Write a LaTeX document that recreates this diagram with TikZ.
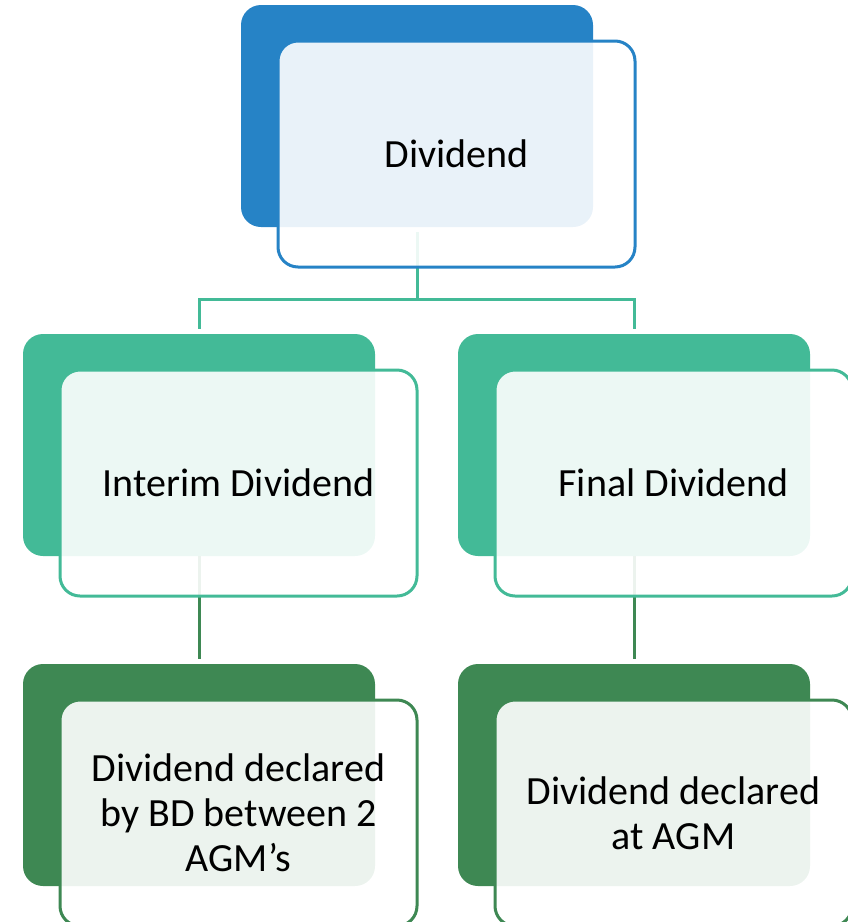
\documentclass[tikz,border=0pt]{standalone}
\usepackage{fontspec}
\setmainfont{Carlito}
\definecolor{topblue}{HTML}{2683C6}
\definecolor{midteal}{HTML}{43BA97}
\definecolor{lowgreen}{HTML}{3E8853}
\begin{document}
\begin{tikzpicture}[x=1pt,y=-1pt,
  backbox/.style={rectangle, rounded corners=20pt, minimum width=352pt,
    minimum height=222pt, inner sep=0pt},
  frontbox/.style={rectangle, rounded corners=20pt, minimum width=357pt,
    minimum height=226pt, line width=3pt, fill=white, fill opacity=0.9,
    text opacity=1, text=black, font=\fontsize{40}{45}\selectfont,
    align=center, inner sep=0pt},
  link/.style={line width=3pt}]
\useasboundingbox (0,0) rectangle (848,922);
\clip (0,0) rectangle (848,922);

% back panels
\node[backbox, fill=topblue]  (topback)  at (417,116) {};
\node[backbox, fill=midteal]  (midLback) at (199,445) {};
\node[backbox, fill=midteal]  (midRback) at (634,445) {};
\node[backbox, fill=lowgreen] (botLback) at (199,775) {};
\node[backbox, fill=lowgreen] (botRback) at (634,775) {};

% connectors
\coordinate (split) at (417,299);
\draw[link, midteal, shorten <=5pt] (topback.south) -- (split);
\draw[link, midteal, shorten >=5pt] (split) -| (midLback.north);
\draw[link, midteal, shorten >=5pt] (split) -| (midRback.north);
\draw[link, lowgreen, shorten >=5pt] (midLback.south) -- (botLback.north);
\draw[link, lowgreen, shorten >=5pt] (midRback.south) -- (botRback.north);

% front cards with labels
\node[frontbox, draw=topblue]  (top)  at (456.5,154) {Dividend};
\node[frontbox, draw=midteal]  (midL) at (238.5,483) {Interim Dividend};
\node[frontbox, draw=midteal]  (midR) at (673.5,483) {Final Dividend};
\node[frontbox, draw=lowgreen] (botL) at (238.5,813) {Dividend declared\\by BD between 2\\AGM’s};
\node[frontbox, draw=lowgreen] (botR) at (673.5,813) {Dividend declared\\at AGM};
\end{tikzpicture}
\end{document}
